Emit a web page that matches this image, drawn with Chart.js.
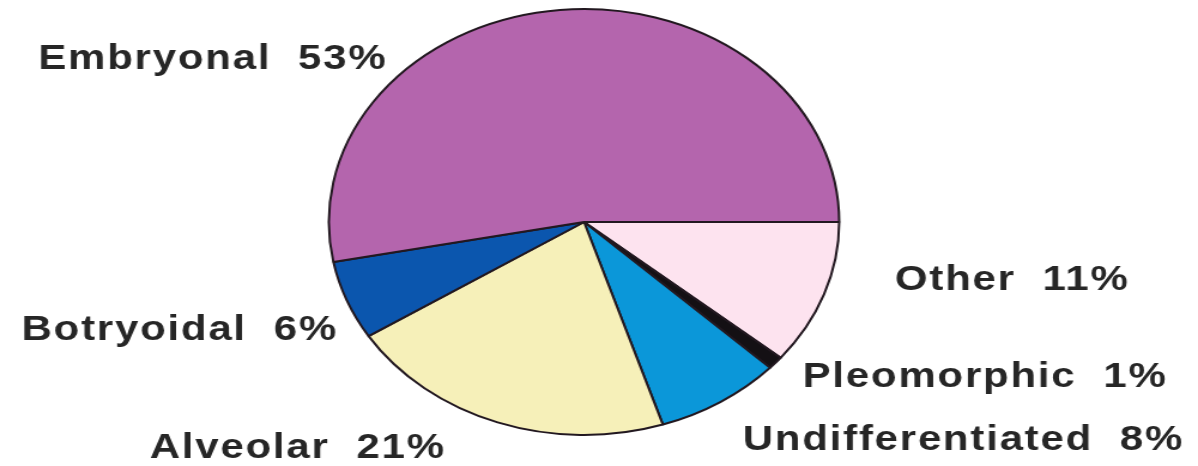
<!DOCTYPE html>
<html>
<head>
<meta charset="utf-8">
<title>Rhabdomyosarcoma subtypes</title>
<script src="https://cdn.jsdelivr.net/npm/chart.js@4.4.0/dist/chart.umd.min.js"></script>
<style>
  html, body { margin: 0; padding: 0; background: #ffffff; overflow: hidden; }
</style>
</head>
<body>
<!-- the drawing buffer is narrower than the box, so the pie comes out slightly wide -->
<canvas id="subtypePie" width="1000" height="466" style="width:1198px;height:466px;display:block"></canvas>
<script>
// Slices in drawing order, clockwise from 3 o'clock
const subtypes = ['Other', 'Pleomorphic', 'Undifferentiated', 'Alveolar', 'Botryoidal', 'Embryonal'];
const shares = [11, 1, 8, 21, 6, 53];
const sliceColors = ['#fde3ef', '#141014', '#0b97d9', '#f6f0b9', '#0b56ae', '#b465ad'];

// Where each label sits (left edge, baseline) in canvas units
const labelSpots = [
    [747, 290],
    [670, 387],
    [620, 450],
    [125, 458],
    [18, 340],
    [32, 69]
];

// Writes "Name  NN%" next to each slice
const sliceLabels = {
    id: 'sliceLabels',
    afterDraw(chart) {
        const ctx = chart.ctx;
        ctx.save();
        ctx.font = 'bold 35px "Liberation Sans", Arial, sans-serif';
        ctx.fillStyle = '#262626';
        ctx.textAlign = 'left';
        ctx.textBaseline = 'alphabetic';
        if ('letterSpacing' in ctx) ctx.letterSpacing = '1.5px';
        subtypes.forEach((name, i) => {
            const [x, y] = labelSpots[i];
            ctx.fillText(name + '  ' + shares[i] + '%', x, y);
        });
        ctx.restore();
    }
};

new Chart(document.getElementById('subtypePie'), {
    type: 'pie',
    data: {
        labels: subtypes,
        datasets: [{
            data: shares,
            backgroundColor: sliceColors,
            borderColor: '#221820',
            borderWidth: 2
        }]
    },
    options: {
        responsive: false,
        animation: false,
        rotation: 90,
        layout: {
            padding: { left: 0, right: 25, top: 8, bottom: 30 }
        },
        plugins: {
            legend: { display: false },
            tooltip: { enabled: false }
        }
    },
    plugins: [sliceLabels]
});
</script>
</body>
</html>
